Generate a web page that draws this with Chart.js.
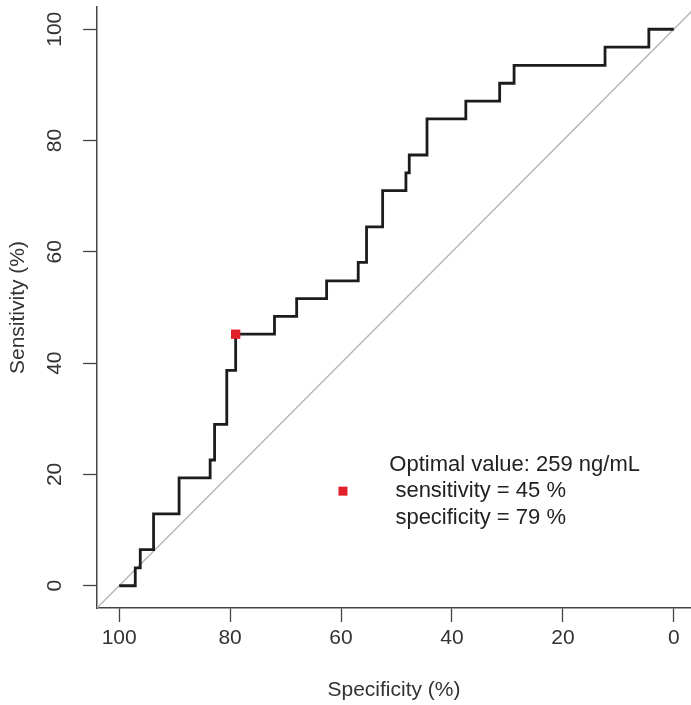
<!DOCTYPE html>
<html>
<head>
<meta charset="utf-8">
<script src="https://cdn.jsdelivr.net/npm/chart.js@4"></script>
<style>
html, body { margin: 0; padding: 0; background: #fff; }
canvas { display: block; }
</style>
</head>
<body>
<canvas id="roc" width="691" height="705"></canvas>
<script>
// ROC curve (step corners, specificity -> sensitivity)
specificity = [100, 97.1, 96.2, 93.8, 89.2, 83.6, 82.8, 80.6, 79.0, 72.0, 68.0, 62.6,
               56.9, 55.4, 52.5, 48.3, 47.7, 44.5, 37.5, 31.4, 28.8, 12.4, 4.5, 0]
sensitivity = [0, 3.2, 6.5, 12.9, 19.4, 22.6, 29.0, 38.7, 45.2, 48.4, 51.6, 54.8,
               58.1, 64.5, 71.0, 74.2, 77.4, 83.9, 87.1, 90.3, 93.5, 96.8, 100, 100]

// chance line (abline through 100,0 and 0,100)
diagSpec = [104, -4]
diagSens = [-4, 104]

// optimal cut-off
bestSpec = [79.0]
bestSens = [45.2]

tickValues = [0, 20, 40, 60, 80, 100]
legendLines = ['Optimal value: 259 ng/mL', ' sensitivity = 45 %', ' specificity = 79 %']

var FONT = '"Liberation Sans", Arial, Helvetica, sans-serif'
var RED = '#e2202a'

function pairs(xs, ys) {
    var out = []
    for (let i = 0; i < xs.length; i++) out.push({x: xs[i], y: ys[i]})
    return out
}

// legend drawn in data space, like R's legend(x, y, ...)
var legendPlugin = {
    id: 'optLegend',
    afterDatasetsDraw: function (chart) {
        var ctx = chart.ctx
        var xs = chart.scales.x, ys = chart.scales.y
        var mx = xs.getPixelForValue(59.65)
        var my = ys.getPixelForValue(17.0)
        ctx.save()
        ctx.fillStyle = RED
        ctx.fillRect(mx - 4.5, my - 4.5, 9, 9)
        ctx.fillStyle = '#222'
        ctx.font = '22px ' + FONT
        ctx.textBaseline = 'middle'
        ctx.textAlign = 'left'
        var tx = xs.getPixelForValue(51.3)
        for (let i = 0; i < legendLines.length; i++) {
            ctx.fillText(legendLines[i], tx, my + (i - 1) * 26.5)
        }
        ctx.restore()
    }
}

var setTicks = function (scale) {
    scale.ticks = tickValues.map(function (v) { return {value: v} })
}

// fixed margins, like par(mar=...) in R
var noPad = function (s) {
    s.paddingTop = 0; s.paddingBottom = 0; s.paddingLeft = 0; s.paddingRight = 0
}

new Chart(document.getElementById('roc'), {
    type: 'line',
    data: {
        datasets: [
            {
                data: pairs(diagSpec, diagSens),
                borderColor: '#b3b3b3',
                borderWidth: 1.3,
                pointRadius: 0,
                order: 3
            },
            {
                data: pairs(specificity, sensitivity),
                borderColor: '#1c1c1c',
                borderWidth: 2.8,
                stepped: 'before',
                pointRadius: 0,
                order: 2
            },
            {
                data: pairs(bestSpec, bestSens),
                showLine: false,
                pointStyle: 'rect',
                pointRadius: 6.6,
                pointBorderWidth: 0,
                pointBackgroundColor: RED,
                order: 1
            }
        ]
    },
    options: {
        responsive: false,
        animation: false,
        layout: {autoPadding: false, padding: {top: 7, left: 0, right: 0, bottom: 0}},
        plugins: {legend: {display: false}, tooltip: {enabled: false}},
        scales: {
            x: {
                type: 'linear',
                reverse: true,
                min: -3.1,
                max: 104,
                afterBuildTicks: setTicks,
                afterFit: function (s) { s.height = 97; noPad(s) },
                grid: {drawOnChartArea: false, drawTicks: true, tickLength: 14, tickColor: '#444', tickWidth: 1.3},
                border: {display: true, color: '#444', width: 1.5},
                ticks: {color: '#333', font: {family: FONT, size: 21}, padding: 4, maxRotation: 0},
                title: {display: true, text: 'Specificity (%)', color: '#333',
                        font: {family: FONT, size: 21}, padding: {top: 0, bottom: 2.4}}
            },
            y: {
                type: 'linear',
                min: -4,
                max: 104,
                afterBuildTicks: setTicks,
                afterFit: function (s) { s.width = 97; noPad(s) },
                grid: {drawOnChartArea: false, drawTicks: true, tickLength: 14, tickColor: '#444', tickWidth: 1.3},
                border: {display: true, color: '#444', width: 1.5},
                ticks: {color: '#333', font: {family: FONT, size: 21}, padding: 10.5,
                        minRotation: 90, maxRotation: 90, crossAlign: 'center'},
                title: {display: true, text: 'Sensitivity (%)', color: '#333',
                        font: {family: FONT, size: 21}, padding: {top: 5.4, bottom: 0}}
            }
        }
    },
    plugins: [legendPlugin]
});
</script>
</body>
</html>
